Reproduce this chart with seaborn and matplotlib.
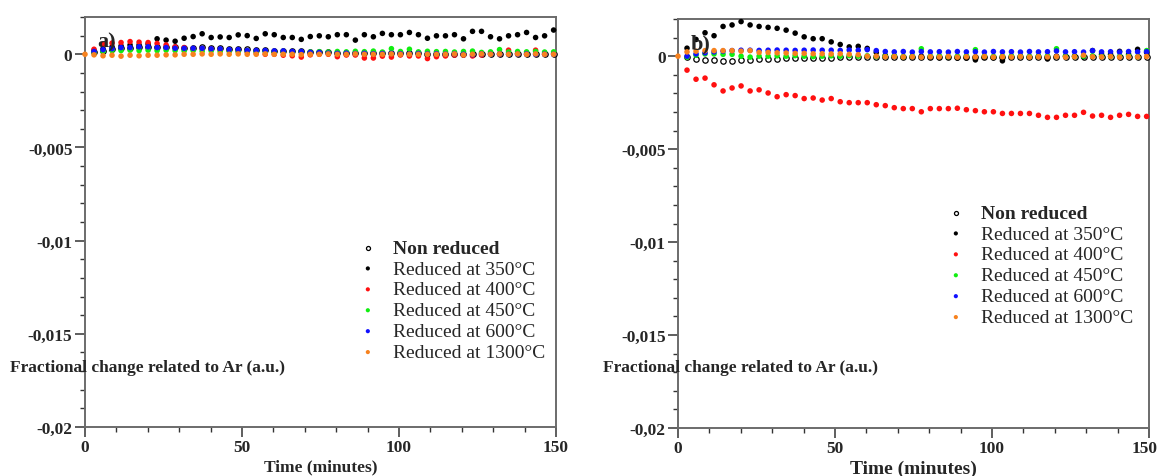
import numpy as np
import pandas as pd
import matplotlib
matplotlib.use("Agg")
import matplotlib.pyplot as plt
from matplotlib.ticker import MultipleLocator, FuncFormatter
from matplotlib.transforms import offset_copy
import seaborn as sns

# Sampling times (minutes): one reading every 2.87 min, the 1300 °C run also has t = 0
time_all = [round(2.87 * k, 2) for k in range(53)]
time = time_all[1:]

labels = ["Non reduced", "Reduced at 350°C", "Reduced at 400°C",
          "Reduced at 450°C", "Reduced at 600°C", "Reduced at 1300°C"]
colors = ["black", "black", "#ff1010", "#10ee10", "#1010ff", "#f7821e"]

# ---- panel a) ----
a_nonred = [0.0001, 0.0002, 0.0003, 0.00033, 0.00035, 0.00038, 0.0004, 0.0004, 0.00038, 0.00038,
            0.00036, 0.00036, 0.00038, 0.00035, 0.00033, 0.0003, 0.0003, 0.00027, 0.00025, 0.00023,
            0.0002, 0.0002, 0.00018, 0.00015, 0.00013, 0.0001, 0.0001, 0.00009, 0.00008, 0.00008,
            0.00007, 0.00007, 0.00006, 0.00006, 0.00005, 0.00005, 0.00005, 0.00004, 0.00004, 0.00004,
            0.00003, 0.00003, 0.00003, 0.00003, 0.00003, 0.00003, 0.00003, 0.00003, 0.00003, 0.00003,
            0.00003, 0.00003]
a_350 = [0.0002, 0.0003, 0.0004, 0.00045, 0.0005, 0.0005, 0.00055, 0.00083, 0.00076, 0.0007,
         0.00086, 0.00095, 0.0011, 0.0009, 0.00093, 0.0009, 0.00104, 0.001, 0.00085, 0.0011,
         0.00105, 0.0009, 0.0009, 0.0008, 0.00095, 0.00099, 0.00094, 0.00105, 0.00105, 0.00076,
         0.00105, 0.00094, 0.00112, 0.00105, 0.00105, 0.00117, 0.00105, 0.00086, 0.00099, 0.00099,
         0.00105, 0.00083, 0.00123, 0.00123, 0.00094, 0.00083, 0.00099, 0.00105, 0.00117, 0.0009,
         0.00099, 0.0013]
a_400 = [0.00027, 0.00054, 0.0006, 0.00063, 0.00068, 0.00065, 0.00063, 0.00058, 0.0005, 0.0004,
         0.00036, 0.0003, 0.0003, 0.00027, 0.00023, 0.00018, 0.00015, 0.00012, 0.00005, 0.0,
         0.0, -0.00005, -0.00008, -0.00015, -0.00003, 0.0, 0.0, -0.00013, -0.00004, -0.00004,
         -0.0002, -0.0002, -0.0001, -0.00015, -0.00004, -0.00009, -0.00009, -0.00023, -0.00013, -0.00009,
         -0.00004, -0.00004, -0.00009, -0.00004, 0.00004, 0.0, 0.00022, 0.00004, 0.0, 0.00022,
         0.0, 0.00004]
a_450 = [0.0001, 0.00015, 0.0002, 0.0002, 0.00022, 0.0002, 0.00022, 0.0002, 0.00022, 0.0002,
         0.00018, 0.0002, 0.00017, 0.00018, 0.00015, 0.00017, 0.00015, 0.00016, 0.00014, 0.00015,
         0.00013, 0.00015, 0.00012, 0.00014, 0.00012, 0.00014, 0.00012, 0.00015, 0.00013, 0.00016,
         0.00014, 0.00017, 0.00012, 0.0003, 0.00015, 0.00027, 0.00013, 0.00016, 0.00014, 0.00015,
         0.00012, 0.00015, 0.00017, 0.0001, 0.00013, 0.00025, 0.00012, 0.00015, 0.00013, 0.00015,
         0.00012, 0.00013]
a_600 = [0.00015, 0.00025, 0.0003, 0.00036, 0.00036, 0.0004, 0.0004, 0.00036, 0.00036, 0.00032,
         0.00032, 0.00032, 0.00032, 0.00029, 0.00029, 0.00025, 0.00025, 0.0002, 0.0002, 0.0002,
         0.00018, 0.00018, 0.00015, 0.00015, 0.0001, 0.0001, 0.00006, 0.00005, 0.00006, 0.00004,
         0.00005, 0.00003, 0.00004, 0.00005, 0.00003, 0.00002, 0.00004, 0.00002, 0.00003, 0.00001,
         0.00003, 0.0, -0.00002, 0.00002, 0.0, 0.00002, 0.0, 0.00001, 0.00002, 0.0,
         0.00001, 0.0]
a_1300 = [0.0, -0.00003, -0.00008, -0.00005, -0.0001, -0.00005, -0.00008, -0.00005, -0.00005, -0.00003,
          -0.00003, 0.0, 0.0, 0.00002, 0.0, 0.00002, 0.0, 0.00002, 0.0, 0.0,
          0.00002, 0.0, 0.0, 0.0, -0.00002, 0.0, 0.0, 0.00002, 0.0, 0.0,
          0.00002, 0.0, 0.0, 0.0, 0.00002, 0.0, 0.0, 0.0, 0.0, 0.0,
          0.0, 0.00002, -0.00003, 0.0, 0.00002, 0.0, 0.00002, 0.0, 0.00002, 0.0,
          0.00002, 0.0, 0.0]

# ---- panel b) ----
b_nonred = [-0.00005, -0.00015, -0.0002, -0.00023, -0.00025, -0.00027, -0.00022, -0.00022, -0.00015, -0.00013,
            -0.00013, -0.0001, -0.0001, -0.0001, -0.00008, -0.00008, -0.00008, -0.00003, -0.00003, -0.00003,
            -0.00005, -0.00005, -0.00004, -0.00006, -0.00005, -0.00004, -0.00005, -0.00006, -0.00004, -0.00005,
            -0.00004, -0.00005, -0.00006, -0.00004, -0.00005, -0.00004, -0.00005, -0.00004, -0.00005, -0.00004,
            -0.00005, -0.00004, -0.00005, -0.00004, -0.00005, -0.00004, -0.00005, -0.00004, -0.00005, -0.00004,
            -0.00005, -0.00004]
b_350 = [0.00043, 0.0009, 0.00126, 0.0011, 0.0016, 0.00168, 0.00186, 0.00168, 0.0016, 0.00155,
         0.0015, 0.0014, 0.00124, 0.00104, 0.00094, 0.00094, 0.00077, 0.00063, 0.0005, 0.00053,
         0.00042, 0.0002, 0.00005, 0.0, -0.00005, -0.00003, 0.0, -0.00005, -0.00008, -0.00005,
         -0.0001, -0.0001, -0.0002, -0.00005, -0.00008, -0.00025, -0.00003, 0.0, -0.00003, 0.0,
         -0.00015, 0.0, 0.0, 0.0, -0.00003, 0.0003, 0.0001, 0.0001, 0.00026, 0.0001,
         0.00037, 0.0002]
b_400 = [-0.00075, -0.00124, -0.00118, -0.00154, -0.00187, -0.00171, -0.0016, -0.00187, -0.00181, -0.00198,
         -0.00218, -0.00207, -0.00212, -0.00228, -0.00225, -0.00236, -0.00228, -0.00245, -0.0025, -0.0025,
         -0.0025, -0.00261, -0.00266, -0.00277, -0.00282, -0.00282, -0.00299, -0.00282, -0.00282, -0.00282,
         -0.0028, -0.00288, -0.00293, -0.00299, -0.00299, -0.00308, -0.00308, -0.00308, -0.00308, -0.00318,
         -0.00329, -0.00329, -0.00318, -0.00318, -0.00302, -0.00322, -0.00318, -0.00329, -0.00318, -0.00313,
         -0.00324, -0.00324]
b_450 = [-0.00005, 0.00005, 0.00012, 0.00012, 0.0001, 0.0001, 0.0, -0.00005, 0.0, 0.0,
         0.00002, 0.0, 0.00003, 0.0, -0.00002, 0.0, 0.00002, 0.0, 0.00003, 0.0,
         0.00002, -0.00002, 0.0, 0.00002, -0.00003, 0.0, 0.0004, 0.0, 0.00002, -0.00002,
         0.0, 0.00002, 0.00035, 0.0, -0.00002, 0.0, 0.00002, 0.0, -0.00002, 0.0,
         0.00002, 0.0004, 0.0, -0.00002, 0.0, 0.00002, 0.0, -0.00002, 0.0, 0.00002,
         -0.00003, 0.0003]
b_600 = [0.0, 0.00012, 0.00018, 0.00023, 0.00027, 0.0003, 0.00032, 0.00032, 0.00031, 0.00032,
         0.00033, 0.00032, 0.00031, 0.00032, 0.00033, 0.00032, 0.00032, 0.00031, 0.00033, 0.00032,
         0.00035, 0.0003, 0.00025, 0.00023, 0.00025, 0.00022, 0.00025, 0.00023, 0.00024, 0.00022,
         0.00025, 0.00023, 0.00024, 0.00022, 0.00025, 0.00023, 0.00024, 0.00022, 0.00025, 0.00023,
         0.00024, 0.00028, 0.00023, 0.00024, 0.00022, 0.0003, 0.00023, 0.00024, 0.00022, 0.00025,
         0.00023, 0.00024]
b_1300 = [0.0, 0.00023, 0.00027, 0.0003, 0.0003, 0.0003, 0.0003, 0.00027, 0.0003, 0.0002,
          0.0002, 0.00018, 0.00017, 0.00015, 0.00015, 0.00013, 0.00013, 0.00012, 0.00013, 0.0001,
          0.00008, 0.0, 0.0, -0.00003, -0.00002, -0.00004, -0.00003, -0.00005, -0.00003, -0.00004,
          -0.00002, -0.00005, -0.00003, -0.00004, -0.00002, -0.00005, -0.00003, -0.00004, -0.00002, -0.00005,
          -0.00003, -0.00004, -0.00002, -0.00005, -0.00003, 0.00005, -0.00003, -0.00004, -0.00002, -0.00005,
          -0.00003, -0.00004, -0.00002]

panel_a = [a_nonred, a_350, a_400, a_450, a_600, a_1300]
panel_b = [b_nonred, b_350, b_400, b_450, b_600, b_1300]

sns.set_theme(style="white")
plt.rcParams["font.family"] = ["Liberation Serif", "DejaVu Serif"]

fig = plt.figure(figsize=(11.59, 4.77), dpi=100)
W, H = 1159, 477
ax_a = fig.add_axes([85 / W, 1 - 428 / H, 471 / W, 410 / H])
ax_b = fig.add_axes([678 / W, 1 - 429 / H, 471 / W, 409 / H])

spine_col = "#6b6b6b"


def draw_panel(ax, series, tag, legend_xy, xlabel_size):
    for lab, col, vals in zip(labels, colors, series):
        xs = time_all if len(vals) == len(time_all) else time
        df = pd.DataFrame({"t": xs, "v": vals})
        if lab == "Non reduced":
            sns.scatterplot(data=df, x="t", y="v", ax=ax, marker="o", s=15,
                            facecolor="white", edgecolor="black", linewidth=0.9,
                            label=lab, clip_on=False, zorder=3)
        else:
            sns.scatterplot(data=df, x="t", y="v", ax=ax, marker="o", s=16,
                            color=col, edgecolor="none", linewidth=0,
                            label=lab, clip_on=False, zorder=3)
    ax.set_xlim(0, 150)
    ax.set_ylim(-0.02, 0.002)
    ax.xaxis.set_major_locator(MultipleLocator(50))
    ax.xaxis.set_minor_locator(MultipleLocator(10))
    ax.yaxis.set_major_locator(MultipleLocator(0.005))
    ax.yaxis.set_minor_locator(MultipleLocator(0.001))
    ax.yaxis.set_major_formatter(FuncFormatter(
        lambda v, p: "0" if abs(v) < 1e-12 else f"{v:.3f}".rstrip("0").replace(".", ",")))
    ax.tick_params(which="major", direction="out", length=7, width=1.1,
                   color="#333333", labelsize=12.5, pad=2)
    ax.tick_params(which="minor", direction="out", length=3.5, width=1.0, color="#333333")
    ax.tick_params(axis="both", which="both", bottom=True, left=True, top=False, right=False)
    for lbl in ax.get_xticklabels() + ax.get_yticklabels():
        lbl.set_fontweight("bold")
    for sp in ax.spines.values():
        sp.set_color(spine_col)
        sp.set_linewidth(1.4)
    ax.set_xlabel("Time (minutes)", fontsize=xlabel_size, fontweight="bold", labelpad=2)
    ax.set_ylabel("")
    ax.grid(False)
    ax.text(0.027, 0.94, tag, transform=ax.transAxes, fontsize=16,
            fontweight="bold", ha="left", va="center", zorder=5)
    leg = ax.legend(loc="upper left", bbox_to_anchor=legend_xy, bbox_transform=fig.transFigure,
                    frameon=False, fontsize=14, borderpad=0, labelspacing=0.17,
                    handlelength=0.6, handletextpad=1.0, markerscale=0.75, borderaxespad=0)
    leg.get_texts()[0].set_fontweight("bold")


draw_panel(ax_a, panel_a, "a)", (362 / W, 1 - 240 / H), 12.5)
draw_panel(ax_b, panel_b, "b)", (950 / W, 1 - 205 / H), 14)

# keep the last x tick label of panel b) inside the figure edge
fig.canvas.draw()
for t in ax_b.get_xticklabels():
    if t.get_text() == "150":
        t.set_horizontalalignment("right")
        t.set_transform(offset_copy(t.get_transform(), fig=fig, x=9, units="dots"))

for x0 in (10, 603):
    fig.text(x0 / W, 1 - 368 / H, "Fractional change related to Ar (a.u.)",
             fontsize=12.5, fontweight="bold", ha="left", va="center")

fig.savefig("out.png", dpi=100, facecolor="white")
